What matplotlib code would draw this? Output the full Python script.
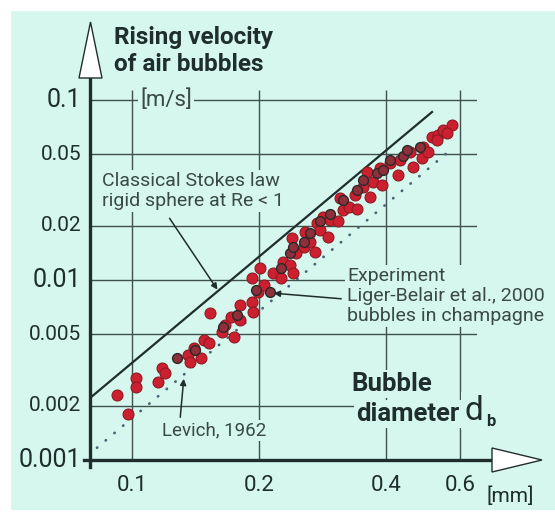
import numpy as np
import matplotlib.pyplot as plt
from matplotlib.patches import Rectangle, Polygon, FancyArrowPatch
import matplotlib.transforms as mtransforms

W, H = 555, 520
BG = '#d5f7ee'
INK = '#1f2e2c'
GRID = '#3f504d'
TXT = '#3a4846'
plt.rcParams['font.family'] = ['Roboto', 'DejaVu Sans']

# axis grid and labels
y_grid = [0.1, 0.05, 0.02, 0.01, 0.005, 0.002]
y_label_vals = [0.1, 0.05, 0.02, 0.01, 0.005, 0.002, 0.001]
y_labels = ['0.1', '0.05', '0.02', '0.01', '0.005', '0.002', '0.001']
y_label_big = [True, False, False, True, False, False, True]
x_grid = [0.1, 0.2, 0.4, 0.6]
x_labels = ['0.1', '0.2', '0.4', '0.6']

# theory lines (diameter mm, velocity m/s)
stokes_d = [0.0795, 0.514]
stokes_v = [0.00221, 0.0858]
levich_d = [0.0826, 0.568]
levich_v = [0.00117, 0.0527]

# experiment, Liger-Belair et al. 2000 (red)
exp_d = [0.092, 0.098, 0.102, 0.102, 0.115, 0.118, 0.120, 0.136, 0.137, 0.140,
         0.146, 0.148, 0.153, 0.152, 0.163, 0.166, 0.174, 0.172, 0.180, 0.180,
         0.192, 0.194, 0.192, 0.201, 0.199, 0.205, 0.216, 0.226, 0.228, 0.237,
         0.241, 0.239, 0.245, 0.255, 0.257, 0.264, 0.272, 0.274, 0.279, 0.284,
         0.292, 0.295, 0.308, 0.311, 0.316, 0.326, 0.338, 0.341, 0.353, 0.360,
         0.366, 0.373, 0.391, 0.387, 0.408, 0.428, 0.431, 0.456, 0.464, 0.486,
         0.490, 0.503, 0.513, 0.532, 0.546, 0.573, 0.558, 0.527]
exp_v = [0.0023, 0.0018, 0.00284, 0.00255, 0.00272, 0.00323, 0.00303, 0.00383, 0.00352, 0.00417,
         0.00367, 0.00464, 0.00653, 0.00446, 0.00516, 0.00562, 0.00484, 0.00625, 0.0060, 0.00726,
         0.00758, 0.00667, 0.0102, 0.0116, 0.00861, 0.0094, 0.0109, 0.0102, 0.0126, 0.0121,
         0.0109, 0.0171, 0.0141, 0.0153, 0.0186, 0.0163, 0.0144, 0.0207, 0.0190, 0.0225,
         0.0174, 0.0215, 0.0212, 0.0284, 0.0245, 0.0255, 0.0297, 0.0249, 0.0330, 0.0400,
         0.0290, 0.0352, 0.0337, 0.0417, 0.0445, 0.0383, 0.0464, 0.0516, 0.0427, 0.0474,
         0.0550, 0.0516, 0.0625, 0.0640, 0.0681, 0.0726, 0.0655, 0.0600]
# dark-edged points along the middle of the band
dark_d = [0.128, 0.141, 0.164, 0.177, 0.197, 0.212, 0.226, 0.237, 0.241, 0.255,
          0.264, 0.279, 0.295, 0.316, 0.341, 0.353, 0.380, 0.394, 0.408, 0.439,
          0.448, 0.482]
dark_v = [0.00367, 0.0041, 0.00551, 0.00639, 0.0088, 0.0086, 0.0116, 0.0141, 0.0153, 0.0163,
          0.0182, 0.0212, 0.0234, 0.0278, 0.0316, 0.0359, 0.0393, 0.0409, 0.0464, 0.0486,
          0.0527, 0.0550]


def P(x, y):
    # pixel position (from top-left) -> figure fraction
    return (x / W, 1 - y / H)


fig = plt.figure(figsize=(W / 100, H / 100), dpi=100)
fig.patch.set_facecolor('white')
fig.patches.append(Rectangle(P(11, 510), (W - 11) / W, 499 / H,
                             transform=fig.transFigure, fc=BG, ec='none', zorder=-10))

# axes area: x 90..477 px, y 90..460 px
ax = fig.add_axes([90 / W, 1 - 460 / H, 387 / W, 370 / H])
ax.set_xscale('log')
ax.set_yscale('log')
ax.set_xlim(0.0795, 0.657)
ax.set_ylim(0.001, 0.1137)
ax.patch.set_alpha(0)
for s in ax.spines.values():
    s.set_visible(False)
ax.set_xticks([])
ax.set_yticks([])
ax.minorticks_off()
ax.tick_params(which='both', length=0, labelleft=False, labelbottom=False)

ax.hlines(y_grid, 0.0795, 0.657, color=GRID, lw=1.0, zorder=1)
ax.vlines(x_grid, 0.001, 0.1137, color=GRID, lw=1.0, zorder=1)

ax.plot(stokes_d, stokes_v, color=INK, lw=1.6, zorder=3)
ax.plot(levich_d, levich_v, color='#4a6474', lw=2.0, ls=(0, (0.1, 4.0)),
        dash_capstyle='round', zorder=3)
ax.scatter(exp_d, exp_v, s=62, c='#cc2030', edgecolors='#8e1a22', linewidths=0.8, zorder=4)
ax.scatter(dark_d, dark_v, s=50, c='#8e2f3a', edgecolors='#2a2a2a', linewidths=1.0, zorder=5)

box = dict(boxstyle='square,pad=0.08', fc=BG, ec='none')

# tick labels
ytr = mtransforms.blended_transform_factory(ax.transAxes, ax.transData)
for v, lab, big in zip(y_label_vals, y_labels, y_label_big):
    ax.text(-0.022, v, lab, transform=ytr, ha='right', va='center',
            fontsize=18 if big else 15, color=INK, zorder=6, clip_on=False)
xtr = mtransforms.blended_transform_factory(ax.transData, ax.transAxes)
for d, lab in zip(x_grid, x_labels):
    ax.text(d, -0.068, lab, transform=xtr, ha='center', va='center',
            fontsize=16, color=INK, zorder=6, clip_on=False)


# annotations (drawn in the axes so their boxes cut the grid lines)
def T(x, y, s, **kw):
    ax.text(*P(x, y), s, transform=fig.transFigure, clip_on=False, zorder=6, **kw)


T(114, 51, 'Rising velocity\nof air bubbles', ha='left', va='center',
  fontsize=17.5, fontweight='bold', color=INK, linespacing=1.2)
T(140, 100, '[m/s]', ha='left', va='center', fontsize=16, color=TXT, bbox=box)
T(102, 191, 'Classical Stokes law\nrigid sphere at Re < 1', ha='left',
  va='center', fontsize=14, color=TXT, linespacing=1.15, bbox=box)
T(347, 296, 'Experiment\nLiger-Belair et al., 2000\nbubbles in champagne',
  ha='left', va='center', fontsize=14, color=TXT, linespacing=1.15, bbox=box)
T(162, 430, 'Levich, 1962', ha='left', va='center', fontsize=13.5, color=TXT, bbox=box)
T(351, 384, 'Bubble', ha='left', va='center', fontsize=18.5,
  fontweight='bold', color=INK, bbox=box)
T(356, 414, 'diameter', ha='left', va='center', fontsize=18.5,
  fontweight='bold', color=INK, bbox=box)
T(464, 411, 'd', ha='left', va='center', fontsize=24, color=INK, bbox=box)
T(486, 421, 'b', ha='left', va='center', fontsize=12, fontweight='bold', color=INK)
T(487, 496, '[mm]', ha='left', va='center', fontsize=15, color=INK)

# axis lines with open arrow heads
fig.lines.append(plt.Line2D(*zip(P(90, 467), P(90, 78)), transform=fig.transFigure,
                            color=INK, lw=2.4, zorder=5))
fig.lines.append(plt.Line2D(*zip(P(84, 460), P(492, 460)), transform=fig.transFigure,
                            color=INK, lw=2.4, zorder=5))
fig.patches.append(Polygon([P(79, 78), P(102, 78), P(90.5, 22)], closed=True,
                           transform=fig.transFigure, fc='white', ec=INK, lw=1.0, zorder=5))
fig.patches.append(Polygon([P(492, 448), P(492, 472), P(542, 460)], closed=True,
                           transform=fig.transFigure, fc='white', ec=INK, lw=1.0, zorder=5))

arrow = dict(arrowstyle='-|>', color=INK, lw=1.1, mutation_scale=9)
for a, b in [((168, 216), (219, 292)), ((344, 299), (271, 293)), ((180, 420), (184, 376))]:
    fig.add_artist(FancyArrowPatch(P(*a), P(*b), transform=fig.transFigure, zorder=7, **arrow))

fig.savefig('out.png', dpi=100)
